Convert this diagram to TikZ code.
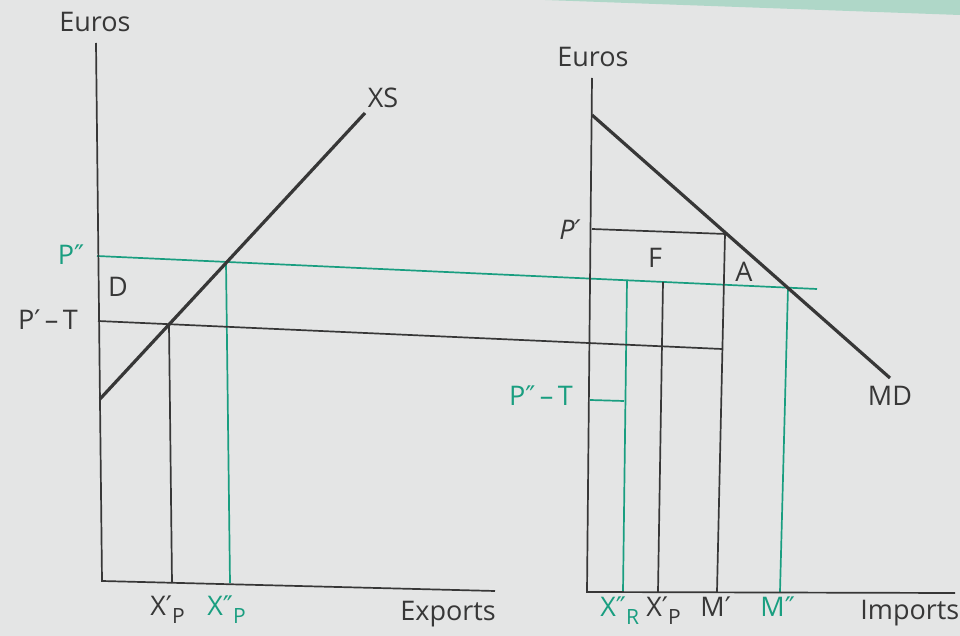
\documentclass[tikz,border=0pt]{standalone}
\usepackage{fontspec}
\setmainfont{Open Sans}
\newfontfamily\symfont{DejaVu Sans}
\newcommand{\pr}{{\symfont ′}}
\newcommand{\ppr}{{\symfont ″}}
\newcommand{\sbs}[1]{\raisebox{-0.5ex}{\fontsize{10.5}{11}\selectfont #1}}
\definecolor{ink}{RGB}{55,55,55}
\definecolor{grn}{RGB}{25,158,128}
\definecolor{bg}{RGB}{228,229,229}
\definecolor{band}{RGB}{175,215,200}
\begin{document}
\begin{tikzpicture}[x=0.5pt,y=-0.5pt,
  lab/.style={font=\fontsize{13.5}{15}\selectfont, text=ink, inner sep=0pt},
  glab/.style={lab, text=grn},
  ax/.style={draw=ink, line width=0.85pt},
  curve/.style={draw=ink, line width=1.6pt},
  gl/.style={draw=grn, line width=0.85pt},
  bl/.style={draw=ink, line width=0.85pt}]
\fill[bg] (0,0) rectangle (960,636);
\useasboundingbox (0,0) rectangle (960,636);
\fill[band] (545,0) -- (960,0) -- (960,15) -- cycle;

% ---------- left chart ----------
\coordinate (Ltop) at (96,43);
\coordinate (Lo) at (102,581);
\coordinate (Lend) at (495,591);
\coordinate (XSa) at (100,399);
\coordinate (XSb) at (365,113);
\coordinate (Ppp0) at (97,256);
\coordinate (Ppp1) at (817,289);
\coordinate (PT0) at (98,321);
\coordinate (PT1) at (722,349);
\coordinate (XPt) at (169,324.2);
\coordinate (XPb) at (172,583);
\coordinate (XPPt) at (226,261.9);
\coordinate (XPPb) at (230,583);

% ---------- right chart ----------
\coordinate (Rtop) at (592,78);
\coordinate (Ro) at (587,592);
\coordinate (Rend) at (955,593);
\coordinate (MDa) at (592,115);
\coordinate (MDb) at (890,378);
\coordinate (Pp0) at (592,229);
\coordinate (Pp1) at (726,234);
\coordinate (Mpt) at (725,234);
\coordinate (Mpb) at (717,592);
\coordinate (Mppt) at (788,287.7);
\coordinate (Mppb) at (780,592);
\coordinate (XRt) at (627,280.3);
\coordinate (XRb) at (623,592);
\coordinate (XPRt) at (663,281.9);
\coordinate (XPRb) at (658,592);
\coordinate (PTT0) at (590,400);
\coordinate (PTT1) at (624,401);

% green lines
\draw[gl] (Ppp0) -- (Ppp1);
\draw[gl] (XPPt) -- (XPPb);
\draw[gl] (Mppt) -- (Mppb);
\draw[gl] (XRt) -- (XRb);
\draw[gl] (PTT0) -- (PTT1);

% black thin lines
\draw[bl] (PT0) -- (PT1);
\draw[bl] (XPt) -- (XPb);
\draw[bl] (Pp0) -- (Pp1);
\draw[bl] (Mpt) -- (Mpb);
\draw[bl] (XPRt) -- (XPRb);

% axes
\draw[ax] (Ltop) -- (Lo) -- (Lend);
\draw[ax] (Rtop) -- (Ro) -- (Rend);

% curves
\draw[curve] (XSa) -- (XSb);
\draw[curve] (MDa) -- (MDb);

% ---------- labels ----------
\node[lab, anchor=base] (eurosL) at (95,32) {Euros};
\node[lab, anchor=base] (xs) at (383,108) {XS};
\node[glab, anchor=base] (pppL) at (71,265) {P\ppr};
\node[lab, anchor=base] (dL) at (118,297) {D};
\node[lab, anchor=base] (ptL) at (48,330) {P\pr\,–\,T};
\node[lab, anchor=base west] (xpL) at (150,616) {X\pr\sbs{P}};
\node[glab, anchor=base west] (xppL) at (207,616) {X\ppr\sbs{P}};
\node[lab, anchor=base west] (exports) at (400,621) {Exports};

\node[lab, anchor=base] (eurosR) at (593,67) {Euros};
\node[lab, anchor=base] (ppR) at (570,240) {\itshape P\pr};
\node[lab, anchor=base] (fR) at (655,268) {F};
\node[lab, anchor=base] (aR) at (744,282) {A};
\node[lab, anchor=base] (md) at (890,406) {MD};
\node[glab, anchor=base] (pptR) at (541,406) {P\ppr\,–\,T};
\node[glab, anchor=base west] (xrR) at (600,617) {X\ppr\sbs{R}};
\node[lab, anchor=base west] (xpR) at (646,617) {X\pr\sbs{P}};
\node[lab, anchor=base west] (mpR) at (700,617) {M\pr};
\node[glab, anchor=base west] (mppR) at (760,617) {M\ppr};
\node[lab, anchor=base west] (imports) at (860,619) {Imports};
\end{tikzpicture}
\end{document}
